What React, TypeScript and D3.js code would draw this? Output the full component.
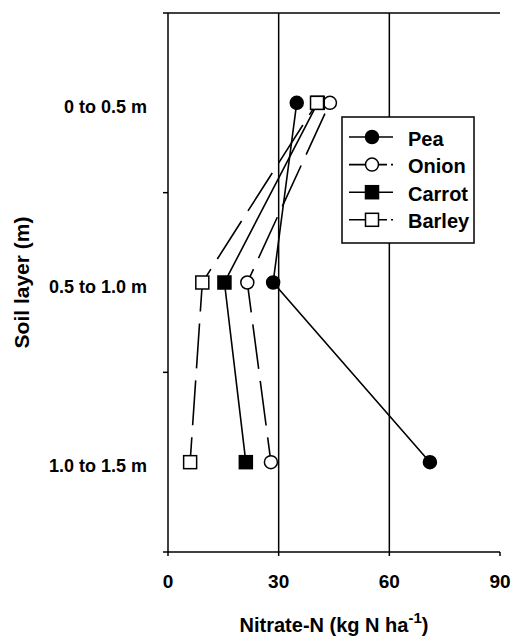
import React, { useEffect, useRef } from "react";
import * as d3 from "d3";

// soil layers (top to bottom) and nitrate values per crop
const layers = ["0 to 0.5 m", "0.5 to 1.0 m", "1.0 to 1.5 m"];
const pea = [34.9, 28.5, 71.0];
const onion = [43.9, 21.5, 27.9];
const carrot = [40.6, 15.3, 21.1];
const barley = [40.4, 9.3, 6.0];
const xTicks = [0, 30, 60, 90];
const gridValues = [30, 60];

const series = [
  { name: "Pea", values: pea, shape: "circle", filled: true, dashed: false },
  { name: "Onion", values: onion, shape: "circle", filled: false, dashed: true },
  { name: "Carrot", values: carrot, shape: "square", filled: true, dashed: false },
  { name: "Barley", values: barley, shape: "square", filled: false, dashed: true },
];

const W = 514;
const H = 637;
const margin = { top: 13, right: 14, bottom: 85, left: 168 };
const FONT = "'Liberation Sans', Arial, sans-serif";

export default function App() {
  const ref = useRef<SVGSVGElement>(null);

  useEffect(() => {
    const svg = d3.select(ref.current);
    svg.selectAll("*").remove();

    const x = d3.scaleLinear().domain([0, 90]).range([margin.left, W - margin.right]);
    const y = d3.scaleBand().domain(layers).range([margin.top, H - margin.bottom]);
    const yc = (l: string) => (y(l) as number) + y.bandwidth() / 2;
    const top = margin.top;
    const bottom = H - margin.bottom;

    const g = svg.append("g").attr("font-family", FONT).attr("font-weight", "bold");

    // gridlines
    g.selectAll(".grid")
      .data(gridValues)
      .join("line")
      .attr("x1", (d) => x(d))
      .attr("x2", (d) => x(d))
      .attr("y1", top)
      .attr("y2", bottom)
      .attr("stroke", "#000")
      .attr("stroke-width", 1.5);

    // frame: top line, left axis, bottom axis
    g.append("line")
      .attr("x1", x(0)).attr("x2", x(90))
      .attr("y1", top).attr("y2", top)
      .attr("stroke", "#000").attr("stroke-width", 1.5);
    g.append("line")
      .attr("x1", x(0)).attr("x2", x(0))
      .attr("y1", top).attr("y2", bottom)
      .attr("stroke", "#000").attr("stroke-width", 1.5);
    g.append("line")
      .attr("x1", x(0)).attr("x2", x(90))
      .attr("y1", bottom).attr("y2", bottom)
      .attr("stroke", "#000").attr("stroke-width", 1.5);

    // y ticks at band edges
    const yEdges = layers.map((l) => y(l) as number).concat([bottom]);
    g.selectAll(".ytick")
      .data(yEdges)
      .join("line")
      .attr("x1", x(0) - 5)
      .attr("x2", x(0))
      .attr("y1", (d) => d)
      .attr("y2", (d) => d)
      .attr("stroke", "#000")
      .attr("stroke-width", 1.5);

    // x ticks
    g.selectAll(".xtick")
      .data(xTicks)
      .join("line")
      .attr("x1", (d) => x(d))
      .attr("x2", (d) => x(d))
      .attr("y1", bottom)
      .attr("y2", bottom + 4)
      .attr("stroke", "#000")
      .attr("stroke-width", 1.5);

    g.selectAll(".xlabel")
      .data(xTicks)
      .join("text")
      .attr("x", (d) => x(d))
      .attr("y", bottom + 36)
      .attr("text-anchor", "middle")
      .style("font-size", "19px")
      .text((d) => d);

    g.selectAll(".ylabel")
      .data(layers)
      .join("text")
      .attr("x", x(0) - 21)
      .attr("y", (d) => yc(d) + 10)
      .attr("text-anchor", "end")
      .style("font-size", "18px")
      .text((d) => d);

    // axis titles
    g.append("text")
      .attr("transform", `translate(29, ${(top + bottom) / 2}) rotate(-90)`)
      .attr("text-anchor", "middle")
      .style("font-size", "21px")
      .text("Soil layer (m)");

    const xt = g.append("text")
      .attr("x", (x(0) + x(90)) / 2)
      .attr("y", 632)
      .attr("text-anchor", "middle")
      .style("font-size", "20px");
    xt.append("tspan").text("Nitrate-N (kg N ha");
    xt.append("tspan").attr("dy", -9).style("font-size", "15px").text("-1");
    xt.append("tspan").attr("dy", 9).text(")");

    // series lines, drawn bottom layer to top layer
    series.forEach((s) => {
      const pts: [number, number][] = layers
        .map((l, i) => [x(s.values[i]), yc(l)] as [number, number])
        .reverse();
      const p = g.append("path")
        .attr("d", d3.line()(pts))
        .attr("fill", "none")
        .attr("stroke", "#000")
        .attr("stroke-width", 1.6);
      if (s.dashed) p.attr("stroke-dasharray", "45,12").attr("stroke-dashoffset", 20);
    });

    const drawMarker = (sel: any, s: any, cx: number, cy: number) => {
      if (s.shape === "circle") {
        sel.append("circle")
          .attr("cx", cx).attr("cy", cy).attr("r", 6.5)
          .attr("fill", s.filled ? "#000" : "#fff")
          .attr("stroke", "#000").attr("stroke-width", 1.5);
      } else {
        sel.append("rect")
          .attr("x", cx - 6.5).attr("y", cy - 6.5)
          .attr("width", 13).attr("height", 13)
          .attr("fill", s.filled ? "#000" : "#fff")
          .attr("stroke", "#000").attr("stroke-width", 1.5);
      }
    };

    series.forEach((s) => {
      layers.forEach((l, i) => drawMarker(g, s, x(s.values[i]), yc(l)));
    });

    // legend
    const lg = g.append("g");
    lg.append("rect")
      .attr("x", 342).attr("y", 117)
      .attr("width", 132).attr("height", 126)
      .attr("fill", "#fff").attr("stroke", "#000").attr("stroke-width", 1.5);
    series.forEach((s, i) => {
      const ry = 137 + i * 27.6;
      const l = lg.append("line")
        .attr("x1", 349).attr("x2", 393)
        .attr("y1", ry).attr("y2", ry)
        .attr("stroke", "#000").attr("stroke-width", 1.6);
      if (s.dashed) l.attr("stroke-dasharray", "38,4");
      drawMarker(lg, s, 372, ry);
      lg.append("text")
        .attr("x", 408).attr("y", ry + 8.5)
        .style("font-size", "20px")
        .text(s.name);
    });
  }, []);

  return (
    <svg
      ref={ref}
      width={W}
      height={H}
      style={{ position: "absolute", left: 0, top: 0, background: "#fff" }}
    />
  );
}
